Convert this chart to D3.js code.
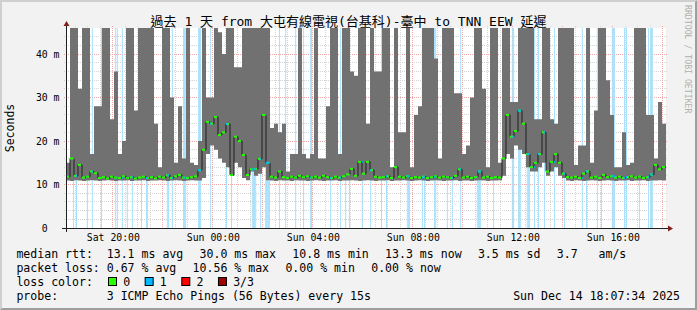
<!DOCTYPE html>
<html><head><meta charset="utf-8">
<script src="https://cdn.jsdelivr.net/npm/d3@7"></script>
<style>
html,body{margin:0;padding:0;background:#f2f2f2;}
svg{display:block;}
text{font-family:"DejaVu Sans Mono","Noto Sans CJK TC",monospace;white-space:pre;}
</style></head><body>
<svg id="chart" width="697" height="310"></svg>
<script>
// ---------------- data ----------------
const titleText = "過去 1 天 from 大屯有線電視(台基科)-臺中 to TNN EEW 延遲";
const startTime = new Date(2025, 11, 13, 18, 7, 34);
const endTime   = new Date(2025, 11, 14, 18, 7, 34);
const binMinutes = 9.6;            // one smoke/median value per 9.6 minutes
const stepMinutes = 2.4;           // one RRD row per 2.4 minutes (loss events)

// smoke top (largest ping, ms; values above the chart top are clipped)
const smokeMax = [
 15,60,60,32,60,60,17,28,28,60,60,25,36,17,20,60,60,27,60,60,60,60,24,14,60,60,30,15,28,16,60,
 15,14.5,20,60,30,30,60,45,40,60,60,37,37,60,60,60,60,60,60,60,23,24,22,24,13,17,17,60,17,16,17,60,
 16,16,28,60,60,17,60,60,36,35,60,60,24,60,36,36,60,60,14,60,22,22,60,14,26,28,60,60,60,39,16,60,
 60,60,31,31,17,19,30,60,60,32,14,60,60,15,60,60,29,29,60,60,60,60,25,25,60,60,25,24,60,60,60,60,
 14.5,19,19,60,15,27,60,60,34,26,14,14,22,14.5,15,60,60,60,26,26,16,29,24
];
// smoke bottom (smallest ping, ms)
const smokeMin = [
 10.9,10.8,11.0,10.9,10.8,10.9,11.0,10.9,10.8,10.9,11.0,10.9,10.8,10.9,10.9,11.0,10.8,10.9,10.9,11.0,10.8,10.9,10.9,11.0,10.9,10.8,10.9,11.0,10.9,10.8,10.9,11.0,10.9,10.9,
 11.5,17,19,18,16,15,14,12,15,14,11.5,11,13,12,12.5,14,11,
 10.9,10.8,11.0,10.9,10.9,10.8,11.0,10.9,10.9,10.8,10.9,11.0,10.9,10.8,10.9,10.9,11.0,10.8,10.9,10.9,
 11.0,10.9,10.8,10.9,11.0,10.9,10.8,10.9,10.9,11.0,10.8,10.9,10.9,11.0,10.9,10.8,10.9,11.0,10.9,10.8,
 10.9,11.0,10.9,10.8,10.9,10.9,11.0,10.8,10.9,10.9,10.8,10.9,11.0,10.9,10.8,10.9,10.9,11.0,
 12,17,16,19,18,17,14,13,13,14,15,12,13,14,12,11.5,
 10.9,10.8,11.0,10.9,10.8,10.9,11.0,10.9,10.8,10.9,11.0,10.9,10.8,10.9,10.9,11.0,10.8,10.9,10.9,11.0,10.8,10.9,10.9,11.0,10.9
];
// median rtt (ms)
const median = [
 11.8,16.0,12.0,14.5,11.6,11.8,13.0,12.6,11.5,11.7,11.4,11.8,11.6,11.5,11.9,11.5,11.7,11.4,11.6,11.8,11.5,11.7,11.4,11.8,11.6,12.1,11.5,11.9,12.2,11.6,11.5,11.7,11.9,13.3,
 18.0,24.4,24.0,25.5,21.4,22.0,23.9,12.2,21.0,20.0,16.8,12.2,13.5,13.6,15.9,26.0,15.0,
 11.8,11.6,13.0,11.7,11.5,11.8,11.6,12.0,11.7,11.9,11.6,11.8,
 11.6,12.0,11.7,11.5,11.8,11.6,11.9,12.3,13.6,12.0,15.2,12.5,15.2,13.3,11.8,11.6,11.7,11.9,11.5,14.0,11.8,11.6,11.9,11.5,11.7,11.6,11.8,11.5,11.7,11.9,11.6,11.8,
 11.7,11.5,12.0,13.5,11.6,11.8,11.5,11.7,13.0,11.6,11.8,11.5,11.7,11.6,16.0,26.0,21.0,22.3,27.0,24.0,17.0,14.0,15.0,17.0,22.0,13.0,15.2,17.0,15.0,12.5,11.7,11.6,
 11.8,11.5,12.5,13.0,11.6,11.8,11.5,12.2,11.7,11.9,11.6,11.8,11.5,11.7,11.9,11.6,11.8,11.5,11.7,12.3,14.5,13.5,14.0
];
// minutes after start at which 1 of 3 pings was lost
const lossMinutes = [
 17,24,50,62,84,118,122,134,146,158,180,192,194,242,245,254,281,283,286,317,319,322,346,384,396,
 446,449,451,454,466,478,480,482,485,487,511,526,550,569,586,588,634,658,670,679,710,730,756,768,
 818,821,823,854,859,883,886,914,926,946,986,989,991,994,1025,1070,1073,1085,1087,1090,1106,1109,1111,
 1123,1133,1147,1171,1195,1238,1248,1274,1284,1310,1313,1315,1339,1344,1375,1397,1402,1404,1406
];

const yTicks = [0, 10, 20, 30, 40];
const yTickLabels = ["0\u00a0\u00a0", "10 m", "20 m", "30 m", "40 m"];
const xTickTimes = ["2025-12-13 20:00","2025-12-14 00:00","2025-12-14 04:00","2025-12-14 08:00","2025-12-14 12:00","2025-12-14 16:00"];

const medianLegend = ["median rtt:  13.1 ms avg","30.0 ms max","10.8 ms min","13.3 ms now","3.5 ms sd","3.7   am/s"];
const lossLegend   = ["packet loss: 0.67 % avg","10.56 % max","0.00 % min","0.00 % now"];
const lossLabels   = ["0","1","2","3/3"];
const lossColors   = ["#26ff00","#00b8ff","#ff0000","#a00000"];
const probeText    = "probe:       3 ICMP Echo Pings (56 Bytes) every 15s";
const dateText     = "Sun Dec 14 18:07:34 2025";

// ---------------- drawing ----------------
const W = 697, H = 310;
const X0 = 66, X1 = 666, Y0 = 228, Y1 = 28;
const svg = d3.select("#chart");

svg.append("rect").attr("width", W).attr("height", H).attr("fill", "#f2f2f2");
svg.append("polygon").attr("points", `0,${H} 2,${H-2} 2,2 ${W-2},2 ${W},0 0,0`).attr("fill", "#cfcfcf");
svg.append("polygon").attr("points", `${W-2},2 ${W-2},${H-2} 2,${H-2} 0,${H} ${W},${H} ${W},0`).attr("fill", "#9e9e9e");

const x = d3.scaleTime().domain([startTime, endTime]).range([X0, X1]);
const y = d3.scaleLinear().domain([0, 46]).range([Y0, Y1]);

svg.append("rect").attr("x", X0).attr("y", Y1).attr("width", X1 - X0).attr("height", Y0 - Y1).attr("fill", "#ffffff");

// grid (beneath the data)
const gridC = "#d4d4d4", mgridC = "#f0a8a8";
const grid = svg.append("g").attr("shape-rendering", "crispEdges");
d3.range(2, 46, 2).forEach(v => {
  const major = v % 10 === 0;
  const yy = Math.floor(y(v)) + 0.5;
  grid.append("line").attr("x1", X0 - 2).attr("x2", X1 + 2).attr("y1", yy).attr("y2", yy)
    .attr("stroke", major ? mgridC : gridC).attr("stroke-dasharray", "1,1");
});
d3.timeMinute.every(30).range(startTime, endTime).forEach(t => {
  const major = t.getMinutes() === 0 && t.getHours() % 2 === 0;
  const xx = Math.floor(x(t)) + 0.5;
  grid.append("line").attr("x1", xx).attr("x2", xx).attr("y1", Y1 - 2).attr("y2", Y0 + 2)
    .attr("stroke", major ? mgridC : gridC).attr("stroke-dasharray", "1,1");
});

svg.append("clipPath").attr("id", "plotclip").append("rect")
  .attr("x", X0).attr("y", Y1).attr("width", X1 - X0).attr("height", Y0 - Y1);
const plot = svg.append("g").attr("clip-path", "url(#plotclip)");

const tAt = m => new Date(startTime.getTime() + m * 60000);
const bins = median.map((m, i) => ({ t0: tAt(i * binMinutes), t1: tAt((i + 1) * binMinutes), med: m, lo: smokeMin[i], hi: smokeMax[i] }));
const pts = bins.map(b => ({ t: b.t0, med: b.med, lo: b.lo, hi: b.hi }));
pts.push({ t: endTime, med: bins[bins.length - 1].med, lo: bins[bins.length - 1].lo, hi: bins[bins.length - 1].hi });

// loss background
plot.selectAll("rect.lossbg").data(lossMinutes).join("rect")
  .attr("x", m => x(tAt(m))).attr("width", m => x(tAt(m + stepMinutes)) - x(tAt(m)))
  .attr("y", Y1).attr("height", Y0 - Y1).attr("fill", "#a6e0fa");

// smoke
plot.append("path").datum(pts)
  .attr("d", d3.area().curve(d3.curveStepAfter).x(d => x(d.t)).y0(d => y(d.lo)).y1(d => y(d.hi)))
  .attr("fill", "#717171");

// median dark line
plot.append("path").datum(pts)
  .attr("d", d3.line().curve(d3.curveStepAfter).x(d => x(d.t)).y(d => y(d.med)))
  .attr("fill", "none").attr("stroke", "#202020").attr("stroke-width", 1);

// median band (loss colour)
const sw = 46 / 200;
plot.selectAll("rect.med").data(bins).join("rect")
  .attr("x", b => x(b.t0)).attr("width", b => x(b.t1) - x(b.t0) - 1)
  .attr("y", b => y(b.med + sw)).attr("height", b => y(b.med - sw) - y(b.med + sw))
  .attr("fill", lossColors[0]);
const medAt = m => bins[Math.min(bins.length - 1, Math.floor(m / binMinutes))].med;
plot.selectAll("rect.medloss").data(lossMinutes).join("rect")
  .attr("x", m => x(tAt(m))).attr("width", m => x(tAt(m + stepMinutes)) - x(tAt(m)))
  .attr("y", m => y(medAt(m) + sw)).attr("height", m => y(medAt(m) - sw) - y(medAt(m) + sw))
  .attr("fill", lossColors[1]);

// axes lines + arrows
svg.append("line").attr("x1", X0 - 4).attr("x2", X1 + 4).attr("y1", Y0 + 0.5).attr("y2", Y0 + 0.5).attr("stroke", "#1f1f1f");
svg.append("line").attr("x1", X0 + 0.5).attr("x2", X0 + 0.5).attr("y1", Y0 + 4).attr("y2", Y1 - 4).attr("stroke", "#1f1f1f");
svg.append("polygon").attr("points", `${X1+2},${Y0-2.5} ${X1+2},${Y0+3.5} ${X1+7},${Y0+0.5}`).attr("fill", "#801f1f");
svg.append("polygon").attr("points", `${X0-2.5},${Y1-2} ${X0+3.5},${Y1-2} ${X0+0.5},${Y1-7}`).attr("fill", "#801f1f");

// axis labels via d3 axes
const parseT = d3.timeParse("%Y-%m-%d %H:%M");
const xa = svg.append("g").attr("transform", `translate(0,${Y0})`)
  .call(d3.axisBottom(x).tickValues(xTickTimes.map(parseT)).tickFormat(d3.timeFormat("%a %H:%M")).tickSize(0).tickPadding(6));
xa.select(".domain").remove();
xa.attr("font-family", null).attr("font-size", null);
xa.selectAll("text").attr("font-size", "9.8px").attr("fill", "#000");

const ya = svg.append("g").attr("transform", `translate(${X0},0)`)
  .call(d3.axisLeft(y).tickValues(yTicks).tickFormat((d, i) => yTickLabels[i]).tickSize(0).tickPadding(6.5));
ya.select(".domain").remove();
ya.attr("font-family", null).attr("font-size", null);
ya.selectAll("text").attr("font-size", "9.8px").attr("fill", "#000");

// title
svg.append("text").attr("x", W / 2).attr("y", 25.5).attr("text-anchor", "middle")
  .attr("font-size", "13px").attr("fill", "#000").text(titleText);

// vertical label
svg.append("text").attr("transform", `translate(14,${(Y0 + Y1) / 2}) rotate(-90)`).attr("text-anchor", "middle")
  .attr("font-size", "11.5px").attr("fill", "#000").text("Seconds");

// watermark
svg.append("text").attr("transform", "translate(684.5,5) rotate(90)").attr("text-anchor", "start")
  .attr("font-size", "8.2px").attr("fill", "#b0b0b0").text("RRDTOOL / TOBI OETIKER");

// legend
const LF = "11.56px", gap = 16.3, LX = 16.4;
function row(items, yb) {
  let cx = LX;
  items.forEach(s => {
    const t = svg.append("text").attr("x", cx).attr("y", yb).attr("font-size", LF).attr("fill", "#000").text(s);
    cx += t.node().getComputedTextLength() + gap;
  });
}
row(medianLegend, 258);
row(lossLegend, 272);
svg.append("text").attr("x", LX).attr("y", 286).attr("font-size", LF).attr("fill", "#000").text("loss color:");
let bx = 108;
lossLabels.forEach((lab, i) => {
  svg.append("rect").attr("x", bx + 0.5).attr("y", 277.5).attr("width", 8).attr("height", 8)
    .attr("fill", lossColors[i]).attr("stroke", "#000").attr("stroke-width", 1);
  const t = svg.append("text").attr("x", bx + 15.2).attr("y", 286).attr("font-size", LF).attr("fill", "#000").text(lab);
  bx = bx + 15.2 + t.node().getComputedTextLength() + 14.5;
});
svg.append("text").attr("x", LX).attr("y", 300).attr("font-size", LF).attr("fill", "#000").text(probeText);
svg.append("text").attr("x", 680).attr("y", 300).attr("text-anchor", "end").attr("font-size", LF).attr("fill", "#000").text(dateText);
</script>
</body></html>
